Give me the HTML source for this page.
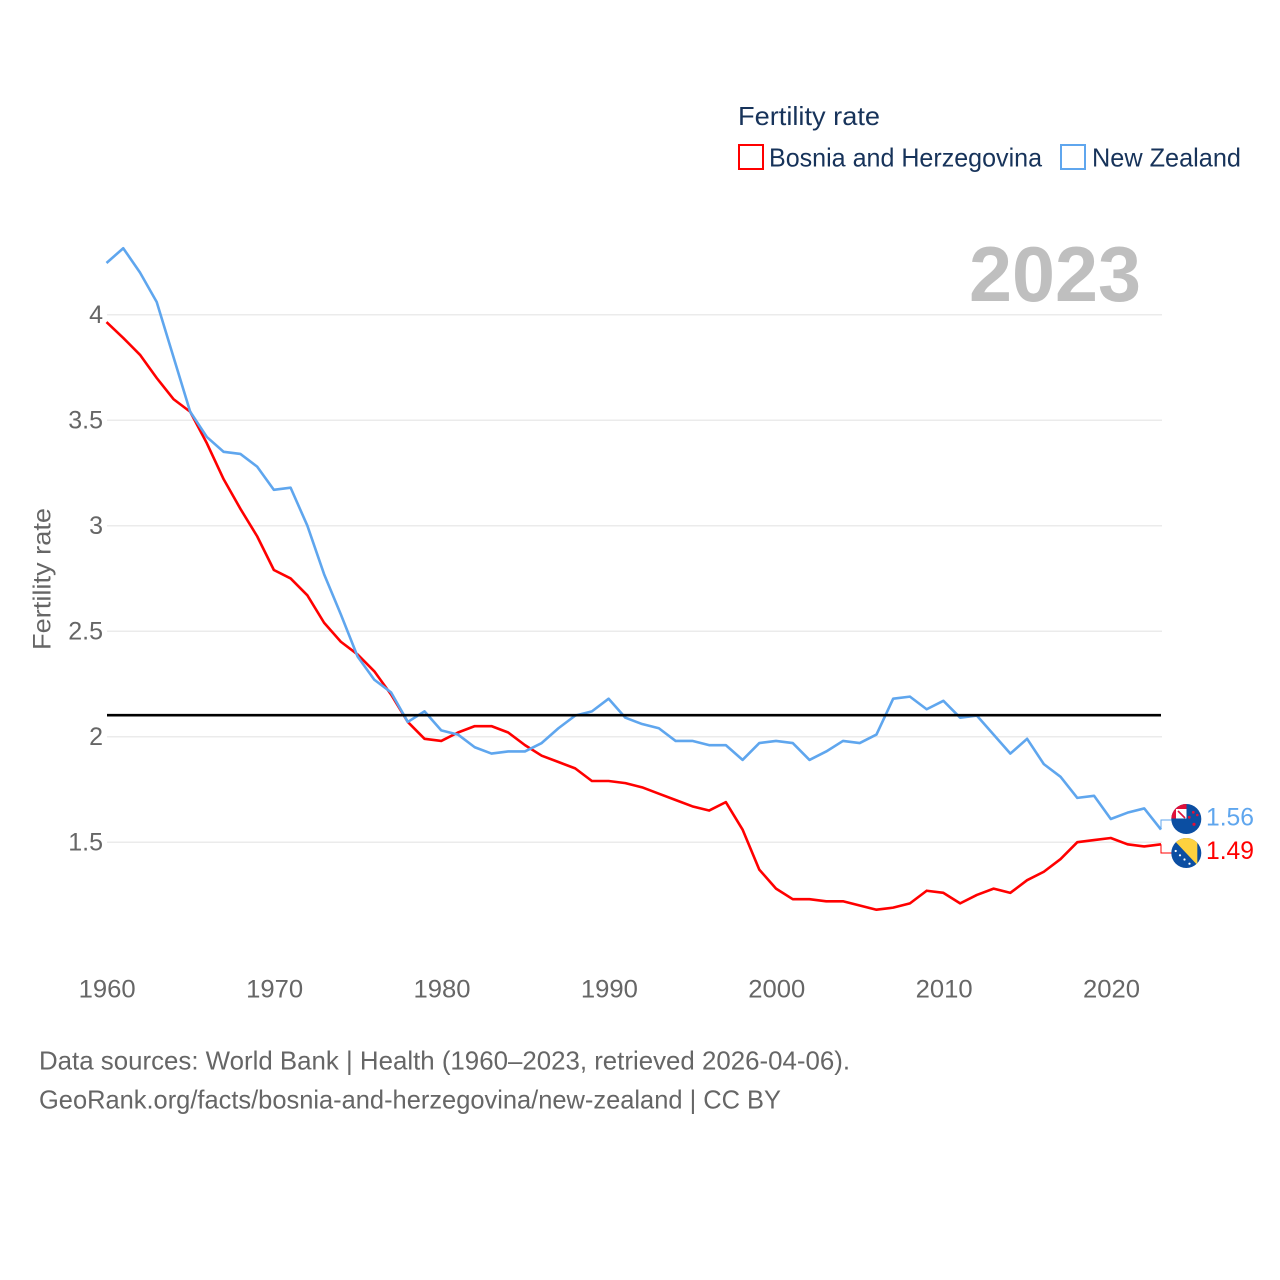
<!DOCTYPE html>
<html lang="en">
<head>
<meta charset="utf-8">
<title>Fertility rate: Bosnia and Herzegovina vs New Zealand</title>
<style>
html,body{margin:0;padding:0;background:#fff;width:1280px;height:1280px;overflow:hidden}
svg{display:block}
text{font-family:"Liberation Sans",sans-serif}
</style>
</head>
<body>
<svg id="chart" xmlns="http://www.w3.org/2000/svg" width="1280" height="1280" viewBox="0 0 1280 1280">
  <defs>
    <clipPath id="clip-nz"><circle cx="1186.3" cy="819" r="15"/></clipPath>
    <clipPath id="clip-ba"><circle cx="1186.3" cy="853" r="15"/></clipPath>
  </defs>
  <rect x="0" y="0" width="1280" height="1280" fill="#fff"/>
  <g id="grid"></g>
  <g id="y-ticks"></g>
  <g id="x-ticks"></g>
  <text transform="translate(50.5 650) rotate(-90)" font-size="25" fill="#666" textLength="142" lengthAdjust="spacingAndGlyphs">Fertility rate</text>
  <text x="969" y="301" font-size="78" font-weight="700" fill="#bfbfbf" textLength="172" lengthAdjust="spacingAndGlyphs">2023</text>
  <g id="series"></g>

  <text x="738" y="125" font-size="26" fill="#17335a" textLength="142" lengthAdjust="spacingAndGlyphs">Fertility rate</text>
  <g>
    <rect x="739" y="145" width="24" height="24" fill="#fff" stroke="#ff0000" stroke-width="2"/>
    <text x="769" y="166.5" font-size="26" fill="#17335a" textLength="273" lengthAdjust="spacingAndGlyphs">Bosnia and Herzegovina</text>
  </g>
  <g>
    <rect x="1061" y="145" width="24" height="24" fill="#fff" stroke="#5fa6ee" stroke-width="2"/>
    <text x="1092" y="166.5" font-size="26" fill="#17335a" textLength="149" lengthAdjust="spacingAndGlyphs">New Zealand</text>
  </g>

  <g clip-path="url(#clip-nz)">
    <rect x="1171" y="804" width="31" height="30" fill="#0b4ea2"/>
    <rect x="1171" y="804" width="15.5" height="14.5" fill="#e0103a"/>
    <rect x="1176" y="809" width="10.5" height="9.5" fill="#fff"/>
    <path d="M1178 811 L1185 818" stroke="#e0103a" stroke-width="1.6"/>
    <circle cx="1193.3" cy="812.3" r="1.4" fill="#e0103a"/>
    <circle cx="1197.3" cy="815" r="1.3" fill="#e0103a"/>
    <circle cx="1189.3" cy="817.3" r="1.4" fill="#e0103a"/>
    <circle cx="1194" cy="824.3" r="1.6" fill="#e0103a"/>
  </g>
  <g clip-path="url(#clip-ba)">
    <rect x="1171" y="838" width="31" height="30" fill="#0b4ea2"/>
    <path d="M1172 838 L1197.3 838 L1197.3 865 Z" fill="#fdd13f"/>
    <circle cx="1175.7" cy="851" r="1.1" fill="#fff"/>
    <circle cx="1180" cy="855.3" r="1.1" fill="#fff"/>
    <circle cx="1184.5" cy="859.5" r="1.1" fill="#fff"/>
    <circle cx="1189.5" cy="863.7" r="1.1" fill="#fff"/>
  </g>
  <text x="1206" y="825.5" font-size="25" fill="#5fa6ee" textLength="48" lengthAdjust="spacingAndGlyphs">1.56</text>
  <text x="1206" y="859" font-size="25" fill="#ff0000" textLength="48" lengthAdjust="spacingAndGlyphs">1.49</text>

  <text x="39" y="1069.5" font-size="26" fill="#666" textLength="811" lengthAdjust="spacingAndGlyphs">Data sources: World Bank | Health (1960–2023, retrieved 2026-04-06).</text>
  <text x="39" y="1108.5" font-size="26" fill="#666" textLength="742" lengthAdjust="spacingAndGlyphs">GeoRank.org/facts/bosnia-and-herzegovina/new-zealand | CC BY</text>
</svg>
<script>
const years = [];
for (let yr = 1960; yr <= 2023; yr++) years.push(yr);
const bosnia = [3.965,3.89,3.81,3.70,3.60,3.54,3.39,3.22,3.08,2.95,2.79,2.75,2.67,2.54,2.45,2.39,2.31,2.20,2.07,1.99,1.98,2.02,2.05,2.05,2.02,1.96,1.91,1.88,1.85,1.79,1.79,1.78,1.76,1.73,1.70,1.67,1.65,1.69,1.56,1.37,1.28,1.23,1.23,1.22,1.22,1.20,1.18,1.19,1.21,1.27,1.26,1.21,1.25,1.28,1.26,1.32,1.36,1.42,1.50,1.51,1.52,1.49,1.48,1.49];
const newZealand = [4.245,4.315,4.20,4.06,3.80,3.54,3.42,3.35,3.34,3.28,3.17,3.18,3.00,2.77,2.58,2.38,2.27,2.21,2.07,2.12,2.03,2.01,1.95,1.92,1.93,1.93,1.97,2.04,2.10,2.12,2.18,2.09,2.06,2.04,1.98,1.98,1.96,1.96,1.89,1.97,1.98,1.97,1.89,1.93,1.98,1.97,2.01,2.18,2.19,2.13,2.17,2.09,2.10,2.01,1.92,1.99,1.87,1.81,1.71,1.72,1.61,1.64,1.66,1.56];
const replacementRate = [2.102];
const yTickValues = [4, 3.5, 3, 2.5, 2, 1.5];
const xTickValues = [1960, 1970, 1980, 1990, 2000, 2010, 2020];

const NS = 'http://www.w3.org/2000/svg';
function xScale(year) { return 106.5 + (year - 1960) * (1054.5 / 63); }
function yScale(value) { return 314.7 + (4 - value) * 211; }
function pathFrom(values) {
  return values.map(function (v, i) {
    return (i ? 'L' : 'M') + xScale(years[i]).toFixed(2) + ' ' + yScale(v).toFixed(2);
  }).join(' ');
}

const gridGroup = document.getElementById('grid');
const yGroup = document.getElementById('y-ticks');
const xGroup = document.getElementById('x-ticks');
const seriesGroup = document.getElementById('series');

yTickValues.forEach(function (v) {
  const line = document.createElementNS(NS, 'line');
  
  
  line.setAttribute('x1', 107);
  line.setAttribute('x2', 1162);
  line.setAttribute('y1', yScale(v));
  line.setAttribute('y2', yScale(v));
  line.setAttribute('stroke', '#ebebeb');
  line.setAttribute('stroke-width', '1.5');
  gridGroup.appendChild(line);

  const label = document.createElementNS(NS, 'text');
  
  
  label.setAttribute('x', 103);
  label.setAttribute('y', yScale(v) + 8.3);
  label.setAttribute('text-anchor', 'end');
  label.setAttribute('font-size', '25');
  label.setAttribute('fill', '#666');
  label.textContent = String(v);
  yGroup.appendChild(label);
});

xTickValues.forEach(function (yr) {
  const label = document.createElementNS(NS, 'text');
  
  
  label.setAttribute('x', xScale(yr) + 0.7);
  label.setAttribute('y', 997.5);
  label.setAttribute('text-anchor', 'middle');
  label.setAttribute('font-size', '25');
  label.setAttribute('fill', '#666');
  label.setAttribute('textLength', '57');
  label.setAttribute('lengthAdjust', 'spacingAndGlyphs');
  label.textContent = String(yr);
  xGroup.appendChild(label);
});

const bosniaLine = document.createElementNS(NS, 'path');


bosniaLine.setAttribute('d', pathFrom(bosnia));
bosniaLine.setAttribute('fill', 'none');
bosniaLine.setAttribute('stroke', '#ff0000');
bosniaLine.setAttribute('stroke-width', '2.6');
bosniaLine.setAttribute('stroke-linejoin', 'round');
seriesGroup.appendChild(bosniaLine);

const nzLine = document.createElementNS(NS, 'path');


nzLine.setAttribute('d', pathFrom(newZealand));
nzLine.setAttribute('fill', 'none');
nzLine.setAttribute('stroke', '#5fa6ee');
nzLine.setAttribute('stroke-width', '2.6');
nzLine.setAttribute('stroke-linejoin', 'round');
seriesGroup.appendChild(nzLine);

const refLine = document.createElementNS(NS, 'line');


refLine.setAttribute('x1', 107);
refLine.setAttribute('x2', 1161);
refLine.setAttribute('y1', yScale(replacementRate[0]));
refLine.setAttribute('y2', yScale(replacementRate[0]));
refLine.setAttribute('stroke', '#000');
refLine.setAttribute('stroke-width', '2.6');
seriesGroup.appendChild(refLine);

const lastX = xScale(years[years.length - 1]);
const nzConnector = document.createElementNS(NS, 'path');


nzConnector.setAttribute('d', 'M' + lastX + ' ' + yScale(newZealand[newZealand.length - 1]) + ' V820 H1172');
nzConnector.setAttribute('fill', 'none');
nzConnector.setAttribute('stroke', '#5fa6ee');
nzConnector.setAttribute('stroke-width', '1');
seriesGroup.appendChild(nzConnector);

const baConnector = document.createElementNS(NS, 'path');


baConnector.setAttribute('d', 'M' + lastX + ' ' + yScale(bosnia[bosnia.length - 1]) + ' V853 H1172');
baConnector.setAttribute('fill', 'none');
baConnector.setAttribute('stroke', '#ff0000');
baConnector.setAttribute('stroke-width', '1');
seriesGroup.appendChild(baConnector);
</script>
</body>
</html>
